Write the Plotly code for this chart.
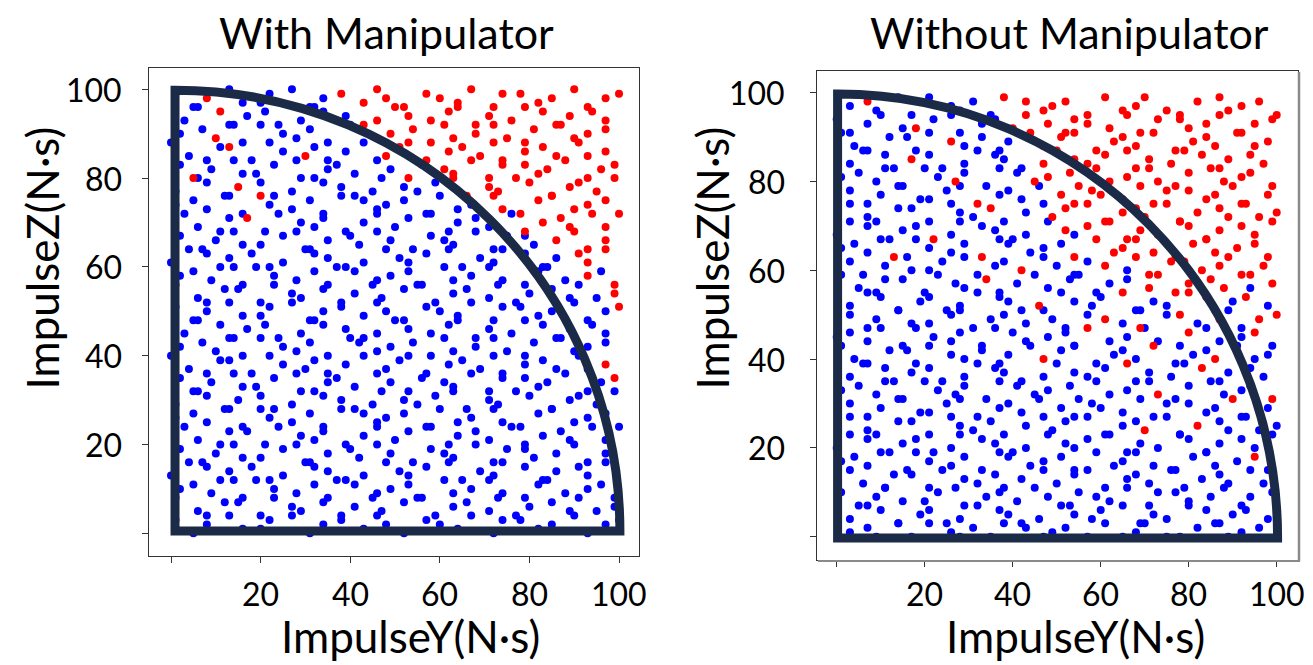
import plotly.graph_objects as go

# ---------------- data: (ImpulseY, ImpulseZ) points read/ ----------------
with_manip_blue = [
(1,99),(5,96),(13,100),(16,97),(20,97),(22,99),(27,100),(31,96),(34,98),
(3,93),(6,96),(13,92),(17,94),(21,95),(24,92),(29,93),(32,96),(34,95),(39,94),
(2,90),(7,91),(14,92),(16,88),(20,92),(25,90),(28,89),(31,91),(35,88),(40,92),
(0,88),(4,85),(8,84),(11,87),(18,84),(22,88),(25,86),(32,87),(35,84),(39,86),(43,88),
(2,83),(9,82),(14,84),(16,81),(19,81),(23,83),(28,84),(32,80),(35,82),(37,83),(41,81),(46,84),(49,82),
(1,77),(6,80),(8,79),(12,76),(20,79),(23,76),(27,77),(29,80),(34,79),(38,78),(41,76),(45,77),(47,80),(52,78),(55,77),(59,79),
(1,74),(5,75),(8,73),(13,76),(16,72),(22,74),(27,73),(31,75),(34,72),(38,76),(43,75),(46,73),(48,74),(52,75),(57,72),(60,76),(64,73),(67,74),
(3,72),(6,69),(11,68),(13,71),(21,68),(24,72),(29,70),(32,69),(34,71),(39,68),(43,70),(46,72),(50,69),(53,71),(58,72),(62,68),(64,70),(68,71),(71,69),(76,72),
(2,67),(7,64),(10,66),(14,68),(16,65),(20,65),(25,67),(28,68),(31,64),(35,66),(40,67),(42,65),(46,68),(49,66),(54,64),(58,67),(61,66),(63,65),(68,68),(72,64),(75,67),(79,67),(81,65),
(0,61),(4,64),(8,63),(11,60),(13,62),(18,63),(22,60),(25,61),(30,64),(32,63),(35,62),(39,60),(43,61),(48,64),(51,62),(53,61),(57,63),(62,64),(65,60),(69,62),(72,61),(74,64),(79,63),(83,60),(86,62),
(2,58),(5,59),(9,57),(14,60),(16,56),(19,60),(23,58),(28,57),(32,59),(35,56),(37,60),(41,59),(46,57),(49,58),(53,59),(56,56),(61,60),(63,57),(67,58),(71,60),(74,57),(79,56),(82,59),(84,60),(88,57),(96,59),
(1,56),(6,53),(8,52),(12,55),(15,55),(20,52),(23,56),(27,54),(29,53),(34,55),(38,52),(41,54),(45,56),(47,53),(52,55),(55,56),(59,52),(63,54),(66,55),(71,53),(73,56),(77,52),(80,54),(85,55),(89,53),(91,56),(95,53),
(1,51),(5,48),(8,50),(13,52),(16,49),(20,49),(22,51),(27,52),(31,48),(34,50),(38,51),(43,49),(46,52),(48,50),(52,48),(57,51),(60,50),(64,49),(67,52),(72,48),(74,51),(78,51),(82,49),(85,50),(90,52),(93,48),(97,50),
(3,45),(6,48),(11,47),(13,44),(17,46),(21,47),(24,44),(29,45),(32,48),(34,47),(39,46),(43,44),(46,45),(50,48),(53,46),(58,45),(62,47),(64,48),(68,44),(71,46),(76,45),(79,48),(83,47),(87,44),(89,46),(94,47),(97,45),
(2,42),(7,43),(10,41),(14,44),(16,40),(20,44),(25,42),(28,41),(31,43),(35,40),(40,44),(42,43),(46,41),(49,42),(54,43),(58,40),(61,44),(63,41),(68,42),(72,44),(75,41),(79,40),(81,43),(86,44),(90,41),(93,42),(97,43),
(0,40),(4,37),(8,36),(11,39),(13,39),(18,36),(22,40),(25,38),(30,37),(32,39),(35,36),(39,38),(43,40),(48,37),(51,39),(53,40),(57,36),(62,38),(65,39),(69,37),(72,40),(74,36),(79,38),(83,39),(86,37),(91,40),(93,37),
(2,35),(5,32),(9,34),(14,36),(16,33),(19,33),(23,35),(28,36),(32,32),(35,34),(37,35),(41,33),(46,36),(49,34),(53,32),(56,35),(61,34),(63,33),(67,36),(71,32),(74,35),(79,35),(82,33),(84,34),(88,36),(93,32),(96,34),
(1,29),(6,32),(8,31),(12,28),(15,30),(20,31),(23,28),(27,29),(29,32),(34,31),(38,30),(41,28),(45,29),(47,32),(52,30),(55,29),(59,31),(63,32),(66,28),(71,30),(73,29),(77,32),(80,31),(85,28),(89,30),(91,31),(95,29),(99,32),
(1,26),(5,27),(8,25),(13,28),(16,24),(20,28),(22,26),(27,25),(31,27),(34,24),(38,28),(43,27),(46,25),(48,26),(52,27),(57,24),(60,28),(64,25),(67,26),(72,28),(74,25),(78,24),(82,27),(85,28),(90,25),(93,26),(97,27),(100,24),
(3,24),(6,21),(11,20),(13,23),(17,23),(21,20),(24,24),(29,22),(32,21),(34,23),(39,20),(43,22),(46,24),(50,21),(53,23),(58,24),(62,20),(64,22),(68,23),(71,21),(76,24),(79,20),(83,22),(87,23),(89,21),(94,24),(97,21),
(2,19),(7,16),(10,18),(14,20),(16,17),(20,17),(25,19),(28,20),(31,16),(35,18),(40,19),(42,17),(46,20),(49,18),(54,16),(58,19),(61,18),(63,17),(68,20),(72,16),(75,19),(79,19),(81,17),(86,18),(90,20),(93,16),(97,18),
(0,13),(4,16),(8,15),(11,12),(13,14),(18,15),(22,12),(25,13),(30,16),(32,15),(35,14),(39,12),(43,13),(48,16),(51,14),(53,13),(57,15),(62,16),(65,12),(69,14),(72,13),(74,16),(79,15),(83,12),(86,14),(91,15),(93,13),(97,16),
(2,10),(5,11),(9,9),(14,12),(16,8),(19,12),(23,10),(28,9),(32,11),(35,8),(37,12),(41,11),(46,9),(49,10),(53,11),(56,8),(61,12),(63,9),(67,10),(71,12),(74,9),(79,8),(82,11),(84,12),(88,9),(93,10),(96,11),(99,8),
(1,8),(6,5),(8,4),(12,7),(15,7),(20,4),(23,8),(27,6),(29,5),(34,7),(38,4),(41,6),(45,8),(47,5),(52,7),(55,8),(59,4),(63,6),(66,7),(71,5),(73,8),(77,4),(80,6),(85,7),(89,5),(91,8),(95,5),(99,6),
(1,3),(5,0),(8,2),(13,4),(16,1),(20,1),(22,3),(27,4),(31,0),(34,2),(38,3),(43,1),(46,4),(48,2),(52,0),(57,3),(60,2),(64,1),(67,4),(72,0),(74,3),(78,3),(82,1),(85,2),(90,4),(93,0),(97,2),(100,3),
]

with_manip_red = [
(8,98),(38,99),(43,97),(46,100),(48,98),(52,96),(57,99),(60,98),(64,97),(67,100),(72,96),(74,99),(78,99),(82,97),(85,98),(90,100),(93,96),(97,98),(100,99),
(11,95),(43,92),(46,93),(50,96),(53,94),(58,93),(62,95),(64,96),(68,92),(71,94),(76,93),(79,96),(83,95),(87,92),(89,94),(94,95),(97,93),
(10,89),(42,91),(46,89),(49,90),(54,91),(58,88),(61,92),(63,89),(68,90),(72,92),(75,89),(79,88),(81,91),(86,92),(90,89),(93,90),(97,91),
(13,87),(30,85),(48,85),(51,87),(53,88),(57,84),(62,86),(65,87),(69,85),(72,88),(74,84),(79,86),(83,87),(86,85),(91,88),(93,85),(97,86),
(5,80),(53,80),(56,83),(61,82),(63,81),(67,84),(71,80),(74,83),(79,83),(82,81),(84,82),(88,84),(93,80),(96,82),(99,83),
(15,78),(63,80),(66,76),(71,78),(73,77),(77,80),(80,79),(85,76),(89,78),(91,79),(95,77),(99,80),
(20,76),(72,76),(74,73),(78,72),(82,75),(85,76),(90,73),(93,74),(97,75),(100,72),
(17,71),(79,68),(83,70),(87,71),(89,69),(94,72),(97,69),
(86,66),(90,68),(93,64),(97,66),
(91,63),(93,61),(97,64),
(93,58),(99,56),
(99,54),
(100,51),
(97,38),
(99,35),
]

without_manip_blue = [
(3,97),(9,96),(14,99),(17,95),(21,99),(26,97),(28,96),(31,98),(35,95),
(0,94),(3,91),(7,93),(10,95),(15,92),(22,94),(26,95),(28,91),(33,93),(36,94),
(1,91),(4,88),(7,87),(12,90),(16,90),(18,87),(21,91),(29,88),(33,90),(37,87),(39,89),
(3,84),(6,87),(11,86),(13,83),(21,86),(24,83),(29,84),(32,87),(36,86),(38,85),(42,83),
(1,81),(5,82),(9,80),(11,83),(15,79),(20,83),(23,81),(29,82),(34,79),(37,83),(41,82),
(3,78),(7,75),(10,77),(14,79),(19,76),(21,76),(25,78),(28,79),(37,77),(39,78),(42,76),(46,79),
(3,75),(7,72),(9,71),(14,74),(17,74),(21,71),(26,75),(28,73),(31,72),(38,71),(43,73),(47,75),
(0,68),(3,71),(7,70),(10,67),(15,69),(18,70),(26,68),(28,71),(33,70),(36,69),(40,67),(43,68),(48,71),(54,68),
(1,65),(4,66),(7,64),(12,67),(16,63),(18,67),(21,65),(26,64),(29,66),(37,67),(39,66),(44,64),(47,65),(51,66),
(3,62),(6,59),(11,61),(17,60),(21,60),(24,62),(29,63),(32,59),(36,61),(38,62),(47,63),(50,61),(54,59),(57,62),(66,60),
(1,59),(5,56),(9,55),(11,58),(15,58),(20,55),(23,59),(27,57),(29,56),(37,55),(41,57),(45,59),(48,56),(53,58),(55,59),(59,55),(62,57),(66,58),(94,56),
(3,52),(7,55),(10,54),(14,51),(19,53),(21,54),(25,51),(28,52),(32,55),(37,54),(39,53),(42,51),(51,55),(54,53),(58,52),(60,54),(69,51),(72,53),(75,52),(90,53),(98,52),
(3,50),(7,47),(9,49),(14,51),(17,48),(21,48),(26,50),(28,51),(31,47),(35,49),(38,50),(43,48),(47,51),(49,49),(52,47),(57,50),(65,48),(68,51),(70,47),(75,50),(82,48),(89,51),(92,47),
(0,45),(3,46),(7,44),(10,47),(15,43),(18,47),(22,45),(26,44),(28,46),(33,43),(36,47),(40,46),(43,44),(48,45),(52,46),(54,43),(62,44),(66,45),(73,44),(78,43),(84,47),(87,44),(92,45),(99,43),
(1,43),(4,40),(7,39),(12,42),(16,42),(18,39),(21,43),(26,41),(29,40),(33,42),(37,39),(39,41),(44,43),(51,42),(54,43),(59,39),(63,41),(65,42),(68,40),(77,39),(81,41),(84,42),(91,43),(95,40),(98,41),
(3,36),(6,39),(11,38),(13,35),(17,37),(21,38),(24,35),(29,36),(32,39),(36,38),(38,37),(42,35),(47,36),(50,39),(54,37),(57,36),(61,38),(68,35),(71,37),(76,36),(79,39),(87,35),(89,37),(94,38),(97,36),
(1,33),(5,34),(9,32),(11,35),(15,31),(20,35),(23,33),(27,32),(29,34),(34,31),(37,35),(41,34),(45,32),(48,33),(53,34),(55,31),(59,35),(62,32),(66,33),(71,35),(77,31),(80,34),(85,35),(88,32),(92,33),(94,34),
(3,30),(7,27),(10,29),(14,31),(19,28),(21,28),(25,30),(28,31),(32,27),(37,29),(39,30),(42,28),(46,31),(51,29),(54,27),(58,30),(60,29),(65,28),(69,31),(72,27),(75,30),(80,30),(84,28),(86,29),(93,27),(98,29),
(3,27),(7,24),(9,23),(14,26),(17,26),(21,23),(26,27),(28,25),(31,24),(35,26),(38,23),(43,25),(47,27),(49,24),(52,26),(57,27),(61,23),(65,25),(68,26),(75,27),(78,23),(87,26),(89,24),(92,27),(96,24),(100,25),
(0,20),(3,23),(7,22),(10,19),(15,21),(18,22),(22,19),(26,20),(28,23),(33,22),(36,21),(40,19),(43,20),(48,23),(52,21),(54,20),(57,22),(62,23),(66,19),(69,21),(73,20),(78,23),(80,22),(84,19),(87,21),(92,22),(95,20),(99,23),
(1,17),(4,18),(7,16),(12,19),(16,15),(18,19),(21,17),(26,16),(29,18),(33,15),(37,19),(39,18),(44,16),(47,17),(51,18),(54,15),(59,19),(63,16),(65,17),(68,19),(72,16),(77,15),(81,18),(84,19),(86,16),(91,17),(98,15),
(3,15),(6,12),(11,11),(13,14),(17,14),(21,11),(24,15),(29,13),(32,12),(36,14),(38,11),(42,13),(47,15),(50,12),(54,14),(57,15),(61,11),(66,13),(68,14),(71,12),(76,15),(79,11),(83,13),(87,14),(89,12),(94,15),(97,12),
(1,10),(5,7),(9,9),(11,11),(15,8),(20,8),(23,10),(27,11),(29,7),(34,9),(37,10),(41,8),(45,11),(48,9),(53,7),(55,10),(59,9),(62,8),(66,11),(71,7),(73,10),(77,10),(80,8),(85,9),(88,11),(92,7),(94,9),(99,10),
(3,4),(7,7),(10,6),(14,3),(19,5),(21,6),(25,3),(28,4),(32,7),(37,6),(39,5),(42,3),(46,4),(51,7),(54,5),(58,4),(60,6),(65,7),(69,3),(72,5),(75,4),(80,7),(84,6),(86,3),(90,5),(93,6),(98,4),
(3,1),(7,2),(9,0),(14,3),(17,0),(21,3),(26,1),(28,0),(31,2),(35,0),(38,3),(43,2),(47,0),(49,1),(52,2),(57,0),(61,3),(65,0),(68,1),(70,3),(75,0),(78,0),(82,2),(87,3),(89,0),(92,1),(96,2),(100,0),
]

without_manip_red = [
(7,98),(38,99),(43,98),(47,96),(49,97),(52,98),(57,95),(61,99),(65,96),(68,97),(70,99),(75,96),(78,95),(82,98),(87,99),(89,96),(92,97),(96,98),(100,95),
(18,92),(40,92),(43,95),(48,93),(52,91),(54,94),(57,93),(62,92),(66,95),(69,91),(73,94),(78,94),(80,92),(84,93),(87,95),(92,91),(95,93),(99,94),
(26,89),(44,91),(47,88),(51,90),(54,91),(59,87),(63,89),(65,90),(68,88),(72,91),(77,87),(81,89),(84,90),(86,88),(91,91),(95,88),(98,89),
(17,85),(47,84),(50,87),(54,85),(57,84),(61,86),(66,87),(68,83),(71,85),(76,84),(79,87),(83,86),(87,83),(89,85),(94,86),(97,84),
(27,80),(45,80),(48,81),(53,82),(55,79),(59,83),(62,80),(66,81),(71,83),(73,80),(77,79),(80,82),(85,83),(88,80),(92,81),(94,82),(99,79),
(32,75),(51,77),(54,75),(58,78),(60,77),(65,76),(69,79),(72,75),(75,78),(80,78),(84,76),(86,77),(90,79),(93,75),(98,77),
(35,74),(49,72),(52,74),(57,75),(61,71),(65,73),(68,74),(70,72),(75,75),(78,71),(82,73),(87,74),(89,72),(92,75),(96,72),(100,73),
(22,67),(52,69),(57,70),(62,71),(66,67),(69,69),(73,68),(78,71),(80,70),(84,67),(87,69),(92,70),(95,68),(99,71),
(33,63),(54,63),(59,67),(63,64),(65,65),(68,67),(72,64),(77,63),(81,66),(84,67),(86,64),(91,65),(95,66),(98,63),
(13,63),(42,60),(61,61),(68,63),(71,59),(76,62),(79,62),(83,60),(87,61),(89,63),(94,59),(97,61),
(34,58),(71,56),(73,59),(77,55),(80,57),(85,58),(88,56),(92,59),(99,57),
(46,52),(65,55),(80,55),(84,54),(86,51),(93,54),
(61,49),(78,50),(87,49),(96,49),(100,50),
(57,47),(80,46),(95,46),(69,47),
(47,40),(72,43),(86,40),
(66,39),(83,38),
(73,32),(99,31),
(90,31),
(70,24),(82,25),
(95,18),
]

panel_titles = ["With Manipulator", "Without Manipulator"]
x_title = "ImpulseY(N·s)"
y_title = "ImpulseZ(N·s)"
tick_vals = [0, 20, 40, 60, 80, 100]
tick_text = ["", "20", "40", "60", "80", "100"]
boundary_radius = [99.3, 100.0]
boundary_origin = [(0.9, 0.5), (0.2, -0.3)]

# ---------------- styling ----------------
W, H = 1313, 665
FONT = "Lato"
BLUE, RED = "#0000ff", "#ff0000"
ARC = "#1b2a47"

fig = go.Figure()

def add_points(pts, color, xa, ya):
    ys, zs = zip(*pts)
    fig.add_trace(go.Scatter(x=list(ys), y=list(zs), mode="markers",
                             marker=dict(size=8, color=color, line=dict(width=0)),
                             xaxis=xa, yaxis=ya, showlegend=False, hoverinfo="skip"))

add_points(with_manip_blue, BLUE, "x", "y")
add_points(with_manip_red, RED, "x", "y")
add_points(without_manip_blue, BLUE, "x2", "y2")
add_points(without_manip_red, RED, "x2", "y2")

k = 0.5523
def quarter_path(x0, y0, r):
    return (f"M {x0},{y0 + r} L {x0},{y0} L {x0 + r},{y0} "
            f"C {x0 + r},{y0 + k * r} {x0 + k * r},{y0 + r} {x0},{y0 + r} Z")

def px_x(p):
    return p / W

def px_y(p):
    return 1 - p / H

shapes = []
for i, (xr, yr) in enumerate([("x", "y"), ("x2", "y2")]):
    ox, oy = boundary_origin[i]
    shapes.append(dict(type="path", xref=xr, yref=yr, path=quarter_path(ox, oy, boundary_radius[i]),
                       line=dict(color=ARC, width=9), fillcolor="rgba(0,0,0,0)", layer="above"))

# slight drop-shadow edge on the right panel frame (right and bottom)
shapes.append(dict(type="line", xref="paper", yref="paper", x0=px_x(1299), x1=px_x(1299),
                   y0=px_y(72), y1=px_y(561), line=dict(color="#8a8a8a", width=2.5), layer="above"))
shapes.append(dict(type="line", xref="paper", yref="paper", x0=px_x(818), x1=px_x(1300),
                   y0=px_y(561), y1=px_y(561), line=dict(color="#8a8a8a", width=2), layer="above"))

axis_common = dict(showline=True, mirror=True, linecolor="#333333", linewidth=1.4,
                   ticks="outside", ticklen=6, tickwidth=1.2, tickcolor="#333333",
                   showgrid=False, zeroline=False, tickvals=tick_vals, ticktext=tick_text,
                   showticklabels=False)

fig.update_layout(
    width=W, height=H, margin=dict(l=0, r=0, t=0, b=0),
    paper_bgcolor="white", plot_bgcolor="white",
    xaxis=dict(domain=[px_x(149), px_x(639)], range=[-4.91, 104.46], anchor="y", **axis_common),
    yaxis=dict(domain=[px_y(556), px_y(68)], range=[-5.11, 104.8], anchor="x", **axis_common),
    xaxis2=dict(domain=[px_x(817), px_x(1298)], range=[-4.48, 104.84], anchor="y2", **axis_common),
    yaxis2=dict(domain=[px_y(560), px_y(71)], range=[-5.25, 104.89], anchor="x2", **axis_common),
    shapes=shapes,
)

ann = []
tick_font = dict(family=FONT, size=32, color="black")
axes_refs = [("x", "y"), ("x2", "y2")]
xtick_label_y = 593          # pixel row of x tick label centres
ytick_label_right = [124, 787]  # pixel column of y tick label right edges
for i, (xr, yr) in enumerate(axes_refs):
    for v, t in zip(tick_vals, tick_text):
        if not t:
            continue
        ann.append(dict(text=t, x=v, xref=xr, y=px_y(xtick_label_y), yref="paper",
                        showarrow=False, xanchor="center", yanchor="middle", font=tick_font))
        ann.append(dict(text=t, x=px_x(ytick_label_right[i]), xref="paper", y=v, yref=yr,
                        showarrow=False, xanchor="right", yanchor="middle", font=tick_font))

title_pos = [(387, 33), (1069, 33)]
xt_pos = [(410, 636), (1075, 636)]
yt_pos = [(41.5, 258), (711.5, 258)]
for i in range(2):
    ann.append(dict(text=panel_titles[i], x=px_x(title_pos[i][0]), y=px_y(title_pos[i][1]),
                    xref="paper", yref="paper", showarrow=False, xanchor="center", yanchor="middle",
                    font=dict(family=FONT, size=43, color="black")))
    ann.append(dict(text=x_title, x=px_x(xt_pos[i][0]), y=px_y(xt_pos[i][1]),
                    xref="paper", yref="paper", showarrow=False, xanchor="center", yanchor="middle",
                    font=dict(family=FONT, size=44, color="black")))
    ann.append(dict(text=y_title, x=px_x(yt_pos[i][0]), y=px_y(yt_pos[i][1]), textangle=-90,
                    xref="paper", yref="paper", showarrow=False, xanchor="center", yanchor="middle",
                    font=dict(family=FONT, size=44, color="black")))
fig.update_layout(annotations=ann)

# remove the browser's default 8px page margin so the figure sits at the window origin
fig.write_html("out.html", config={"displayModeBar": False},
               post_script="document.body.style.margin='0px';")
